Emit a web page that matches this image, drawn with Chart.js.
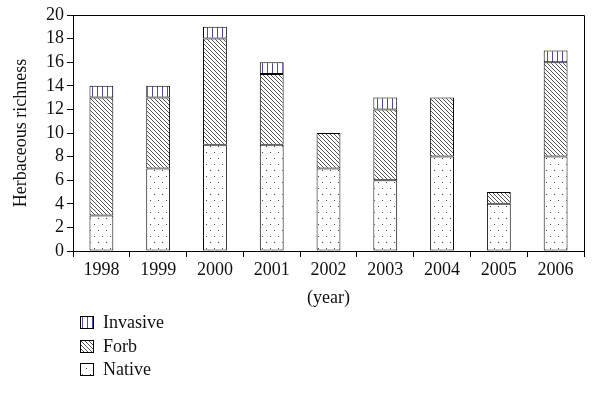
<!DOCTYPE html>
<html>
<head>
<meta charset="utf-8">
<script src="https://cdn.jsdelivr.net/npm/chart.js@4/dist/chart.umd.min.js"></script>
<style>
  html, body { margin: 0; padding: 0; background: #fff; }
  #wrap { width: 599px; height: 404px; }
</style>
</head>
<body>
<div id="wrap"><canvas id="c" width="599" height="404"></canvas></div>
<script>
// Herbaceous species richness by year, split into groups
const years    = ['1998', '1999', '2000', '2001', '2002', '2003', '2004', '2005', '2006'];
const native   = [3, 7, 9, 9, 7, 6, 8, 4, 8];
const forb     = [10, 6, 9, 6, 3, 6, 5, 1, 8];
const invasive = [1, 1, 1, 1, 0, 1, 0, 0, 1];
const yTicks   = [0, 2, 4, 6, 8, 10, 12, 14, 16, 18, 20];

const FONT = '"Liberation Serif", "Times New Roman", serif';
const FS = 18;

// Fill patterns
function makePattern(w, h, draw) {
  const c = document.createElement('canvas');
  c.width = w; c.height = h;
  const g = c.getContext('2d');
  g.fillStyle = '#fff';
  g.fillRect(0, 0, w, h);
  draw(g);
  return document.getElementById('c').getContext('2d').createPattern(c, 'repeat');
}
const dotPattern = makePattern(8, 12, g => {
  g.fillStyle = '#444';
  g.fillRect(2, 2, 1, 1);
  g.fillRect(6, 8, 1, 1);
});
const hatchPattern = makePattern(8, 8, g => {
  g.strokeStyle = '#555';
  g.lineWidth = 1;
  for (let k = -8; k <= 8; k += 4) {
    g.beginPath();
    g.moveTo(k, 0);
    g.lineTo(k + 8, 8);
    g.stroke();
  }
});
const stripePattern = makePattern(5, 1, g => {
  g.fillStyle = '#4a4aa8';
  g.fillRect(2, 0, 1, 1);
});

// Empty segments are left out so they draw no outline
const seg = arr => arr.map(v => (v === 0 ? null : v));

// Frame around the plot area plus a stacked legend underneath
const framePlugin = {
  id: 'frame',
  afterDraw(chart) {
    const { ctx, chartArea: a } = chart;
    ctx.save();
    ctx.strokeStyle = '#000';
    ctx.lineWidth = 1;
    ctx.beginPath();
    ctx.moveTo(Math.round(a.left) + 0.5, Math.round(a.top) + 0.5);
    ctx.lineTo(Math.round(a.right) + 0.5, Math.round(a.top) + 0.5);
    ctx.lineTo(Math.round(a.right) + 0.5, Math.round(a.bottom) + 0.5);
    ctx.stroke();

    const items = [
      { label: 'Invasive', fill: stripePattern, y: 316 },
      { label: 'Forb', fill: hatchPattern, y: 340 },
      { label: 'Native', fill: dotPattern, y: 363 }
    ];
    ctx.font = FS + 'px ' + FONT;
    ctx.textBaseline = 'middle';
    ctx.textAlign = 'left';
    items.forEach(it => {
      ctx.fillStyle = it.fill;
      ctx.fillRect(80, it.y, 13, 12);
      ctx.strokeStyle = '#000';
      ctx.strokeRect(80.5, it.y + 0.5, 13, 12);
      ctx.fillStyle = '#111';
      ctx.fillText(it.label, 103, it.y + 7);
    });
    ctx.restore();
  }
};

const common = { borderColor: '#000', borderWidth: 1, borderSkipped: false,
  barPercentage: 0.42, categoryPercentage: 1.0 };

new Chart(document.getElementById('c'), {
  type: 'bar',
  data: {
    labels: years,
    datasets: [
      Object.assign({ label: 'Native', data: seg(native), backgroundColor: dotPattern }, common),
      Object.assign({ label: 'Forb', data: seg(forb), backgroundColor: hatchPattern }, common),
      Object.assign({ label: 'Invasive', data: seg(invasive), backgroundColor: stripePattern }, common)
    ]
  },
  options: {
    responsive: false,
    animation: false,
    devicePixelRatio: 1,
    layout: { padding: { top: 15, right: 15, bottom: 95, left: 6 } },
    plugins: { legend: { display: false }, tooltip: { enabled: false } },
    scales: {
      x: {
        stacked: true,
        afterFit(scale) { scale.height = 58; },
        grid: { display: true, offset: true, drawOnChartArea: false, tickLength: 6, color: '#000' },
        border: { display: true, color: '#000', width: 1 },
        ticks: { color: '#111', font: { family: FONT, size: FS }, padding: 2, autoSkip: false, maxRotation: 0 },
        title: { display: true, text: '(year)', color: '#111', font: { family: FONT, size: FS }, padding: { top: 4, bottom: 0 } }
      },
      y: {
        stacked: true,
        min: 0, max: 20,
        afterFit(scale) { scale.width = 67; },
        afterBuildTicks(scale) { scale.ticks = yTicks.map(v => ({ value: v })); },
        grid: { display: true, drawOnChartArea: false, tickLength: 6, color: '#000' },
        border: { display: true, color: '#000', width: 1 },
        ticks: { color: '#111', font: { family: FONT, size: FS }, padding: 3, autoSkip: false },
        title: { display: true, text: 'Herbaceous richness', color: '#111', font: { family: FONT, size: FS }, padding: { bottom: 4 } }
      }
    }
  },
  plugins: [framePlugin]
});
</script>
</body>
</html>
